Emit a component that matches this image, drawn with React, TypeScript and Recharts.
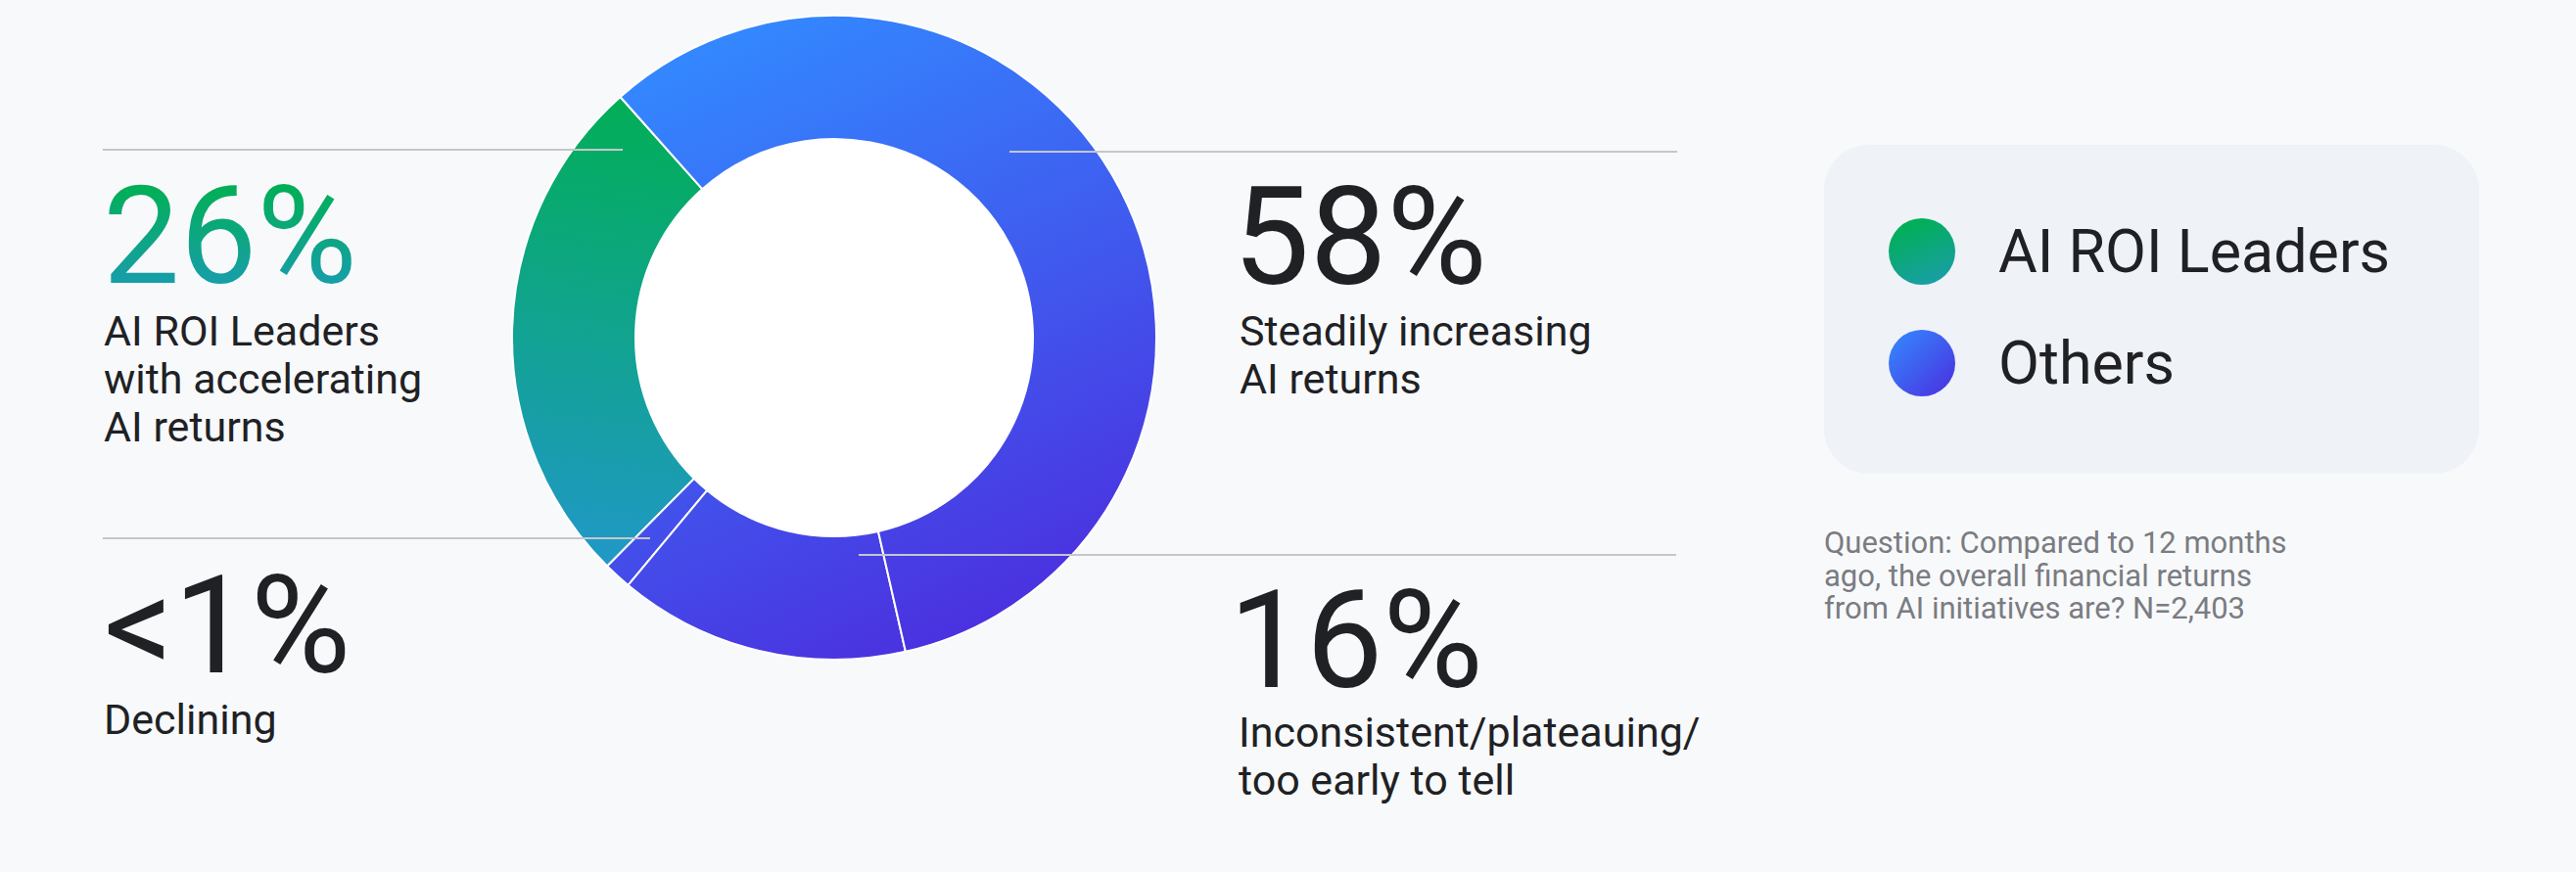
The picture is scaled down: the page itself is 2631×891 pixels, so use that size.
import { PieChart, Pie, Cell, Legend } from 'recharts';

// slices, counter-clockwise from the green one
const categories = [
  'AI ROI Leaders with accelerating AI returns',
  'Declining',
  'Inconsistent/plateauing/too early to tell',
  'Steadily increasing AI returns',
];
const shares = [26, 1.4, 14.6, 58];
const shareLabels = ['26%', '<1%', '16%', '58%'];
const categoryGroups = ['leaders', 'others', 'others', 'others'];
const descriptions = [
  ['AI ROI Leaders', 'with accelerating', 'AI returns'],
  ['Declining'],
  ['Inconsistent/plateauing/', 'too early to tell'],
  ['Steadily increasing', 'AI returns'],
];

const legendNames = ['AI ROI Leaders', 'Others'];
const legendKeys = ['leaders', 'others'];

const noteLines = [
  'Question: Compared to 12 months',
  'ago, the overall financial returns',
  'from AI initiatives are? N=2,403',
];

const data = categories.map((name, i) => ({
  name,
  value: shares[i],
  label: shareLabels[i],
  group: categoryGroups[i],
  lines: descriptions[i],
}));

const legendData = legendNames.map((name, i) => ({ name, key: legendKeys[i] }));

const TEXT = '#202124';
const RULE = '#c5c7cb';

// where each callout sits on the page
const callouts = [
  { x1: 105, x2: 636, lineY: 153, x: 106, vx: 105, valueY: 289, descY: 353, step: 49 },
  { x1: 105, x2: 664, lineY: 550, x: 106, vx: 106, valueY: 687, descY: 750, step: 49 },
  { x1: 877, x2: 1712, lineY: 567, x: 1265, vx: 1255, valueY: 702, descY: 763, step: 48.5 },
  { x1: 1031, x2: 1713, lineY: 155, x: 1266, vx: 1259, valueY: 290, descY: 353, step: 48.5 },
];

function renderCallout(props: any) {
  const { index, cx, cy, innerRadius } = props;
  const c = callouts[index];
  const d = data[index];
  return (
    <g key={`callout-${index}`}>
      {index === 0 && <circle cx={cx} cy={cy} r={innerRadius - 1} fill="#ffffff" />}
      <line x1={c.x1} x2={c.x2} y1={c.lineY} y2={c.lineY} stroke={RULE} strokeWidth={2} />
      <text
        x={c.vx}
        y={c.valueY}
        fontSize={140}
        fill={d.group === 'leaders' ? 'url(#leadersText)' : TEXT}
      >
        {d.label}
      </text>
      <text fontSize={43} fill={TEXT}>
        {d.lines.map((line, j) => (
          <tspan key={line} x={c.x} y={c.descY + j * c.step}>
            {line}
          </tspan>
        ))}
      </text>
    </g>
  );
}

function LegendBox() {
  return (
    <svg width={670} height={340} style={{ display: 'block' }}>
      <defs>
        <linearGradient id="legLeaders" x1="0.3" y1="0" x2="0.7" y2="1">
          <stop offset="0%" stopColor="#00b050" />
          <stop offset="100%" stopColor="#199ea8" />
        </linearGradient>
        <linearGradient id="legOthers" x1="0" y1="0" x2="1" y2="1">
          <stop offset="0%" stopColor="#338cff" />
          <stop offset="100%" stopColor="#4b2ddf" />
        </linearGradient>
      </defs>
      <rect x={0} y={0} width={669} height={336} rx={46} fill="#eff2f7" />
      {legendData.map((item, i) => (
        <g key={item.key}>
          <circle cx={100} cy={109 + i * 114} r={34} fill={`url(#leg${item.key === 'leaders' ? 'Leaders' : 'Others'})`} />
          <text x={178} y={130 + i * 114} fontSize={61} fill={TEXT}>
            {item.name}
          </text>
        </g>
      ))}
    </svg>
  );
}

export default function App() {
  return (
    <div
      style={{
        position: 'absolute',
        left: 0,
        top: 0,
        width: 2631,
        height: 891,
        background: '#f8f9fb',
        fontFamily: 'Roboto, sans-serif',
        overflow: 'hidden',
      }}
    >
      <PieChart width={2631} height={891} margin={{ top: 0, right: 0, bottom: 0, left: 0 }}>
        <defs>
          <linearGradient id="leadersFill" gradientUnits="userSpaceOnUse" x1={690} y1={90} x2={610} y2={600}>
            <stop offset="0%" stopColor="#00af52" />
            <stop offset="100%" stopColor="#2297cd" />
          </linearGradient>
          <linearGradient id="othersFill" gradientUnits="userSpaceOnUse" x1={720} y1={40} x2={1000} y2={650}>
            <stop offset="0%" stopColor="#3388ff" />
            <stop offset="100%" stopColor="#4b30df" />
          </linearGradient>
          <linearGradient id="leadersText" x1="0" y1="0" x2="0" y2="1">
            <stop offset="15%" stopColor="#00b050" />
            <stop offset="100%" stopColor="#1f98c6" />
          </linearGradient>
        </defs>
        <Pie
          data={data}
          dataKey="value"
          nameKey="name"
          cx={852}
          cy={345}
          innerRadius={203}
          outerRadius={329}
          startAngle={131.6}
          endAngle={491.6}
          stroke="#ffffff"
          strokeWidth={2}
          label={renderCallout}
          labelLine={false}
          isAnimationActive={false}
        >
          {data.map((d) => (
            <Cell key={d.name} fill={d.group === 'leaders' ? 'url(#leadersFill)' : 'url(#othersFill)'} />
          ))}
        </Pie>
        <Legend
          content={() => <LegendBox />}
          wrapperStyle={{ position: 'absolute', left: 1863, top: 148, width: 670, height: 340, bottom: 'auto' }}
        />
      </PieChart>
      <svg
        width={600}
        height={120}
        style={{ position: 'absolute', left: 1863, top: 530 }}
      >
        <text fontSize={31} fill="#7a7c81">
          {noteLines.map((line, j) => (
            <tspan key={line} x={0} y={35 + j * 33.5}>
              {line}
            </tspan>
          ))}
        </text>
      </svg>
    </div>
  );
}
